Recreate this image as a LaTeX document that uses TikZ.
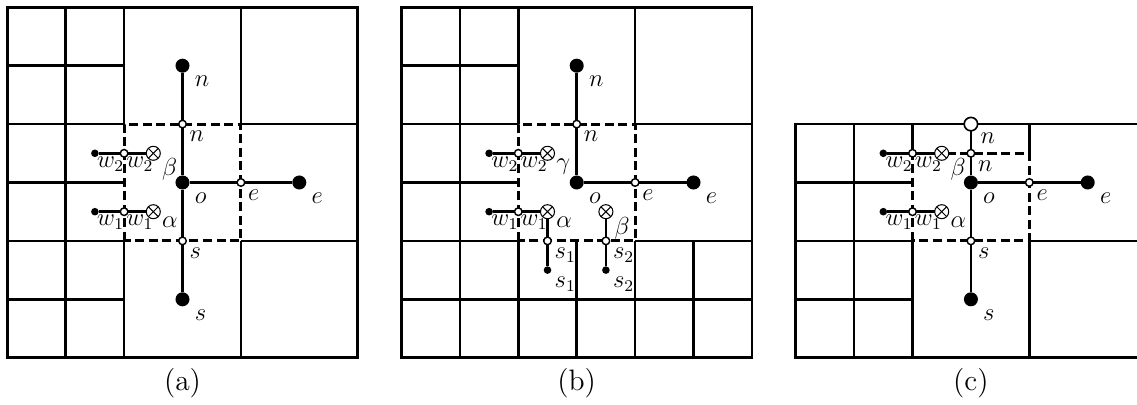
\documentclass[tikz,border=0pt]{standalone}
\tikzset{
  cell/.style={line width=1.2pt},
  bound/.style={line width=1.5pt, dash pattern=on 4.4pt off 2.2pt},
  link/.style={line width=1.2pt},
  bigdot/.style={circle, fill=black, inner sep=0pt, outer sep=0pt, minimum size=0.24cm},
  bigring/.style={circle, draw, fill=white, line width=0.8pt, inner sep=0pt, outer sep=0pt, minimum size=0.23cm},
  ring/.style={circle, draw, fill=white, line width=0.7pt, inner sep=0pt, outer sep=0pt, minimum size=0.13cm},
  dot/.style={circle, fill=black, inner sep=0pt, outer sep=0pt, minimum size=0.13cm},
  cross/.style={circle, draw, fill=white, line width=0.5pt, inner sep=0pt, outer sep=0pt, minimum size=0.24cm,
    path picture={\draw[line width=0.5pt] (path picture bounding box.north west) -- (path picture bounding box.south east)
      (path picture bounding box.north east) -- (path picture bounding box.south west);}},
  lb/.style={anchor=north west, inner sep=3pt},
  lr/.style={anchor=north west, inner sep=2pt},
  lw/.style={anchor=north west, inner sep=0pt},
  lx/.style={anchor=north west, inner sep=1pt},
  caption/.style={font=\Large},
}
\begin{document}
\begin{tikzpicture}[font=\large]
\clip (-0.125,-0.793) rectangle (19.344,6.125);

% ---------------- (a) ----------------
\begin{scope}
  \draw[cell] (0,0) rectangle (6,6);
  \draw[cell] (1,0) -- (1,6) (2,0) -- (2,2) (2,4) -- (2,6) (4,0) -- (4,2) (4,4) -- (4,6)
    (0,5) -- (2,5) (0,4) -- (2,4) (4,4) -- (6,4) (0,3) -- (2,3)
    (0,2) -- (2,2) (4,2) -- (6,2) (0,1) -- (2,1);
  \draw[bound] (2,2) rectangle (4,4);

  \node[bigdot, label={[lb]-35:$n$}] (aN) at (3,5) {};
  \node[ring, label={[lr]-45:$n$}] (an) at (3,4) {};
  \node[bigdot, label={[lb]-35:$o$}] (aO) at (3,3) {};
  \node[ring, label={[lr]-45:$e$}] (ae) at (4,3) {};
  \node[bigdot, label={[lb]-35:$e$}] (aE) at (5,3) {};
  \node[ring, label={[lr]-45:$s$}] (as) at (3,2) {};
  \node[bigdot, label={[lb]-35:$s$}] (aS) at (3,1) {};
  \node[dot, label={[lw]-60:$w_2$}] (aw2d) at (1.5,3.5) {};
  \node[ring, label={[lw]-60:$w_2$}] (aw2) at (2,3.5) {};
  \node[cross, label={[lx]-25:$\beta$}] (aB) at (2.5,3.5) {};
  \node[dot, label={[lw]-60:$w_1$}] (aw1d) at (1.5,2.5) {};
  \node[ring, label={[lw]-60:$w_1$}] (aw1) at (2,2.5) {};
  \node[cross, label={[lx]-25:$\alpha$}] (aA) at (2.5,2.5) {};

  \draw[link] (aN) -- (an) -- (aO) -- (as) -- (aS);
  \draw[link] (aO) -- (ae) -- (aE);
  \draw[link] (aw2d) -- (aw2) -- (aB);
  \draw[link] (aw1d) -- (aw1) -- (aA);

  \node[caption] (acap) at (3,-0.43) {(a)};
\end{scope}

% ---------------- (b) ----------------
\begin{scope}[xshift=6.75cm]
  \draw[cell] (0,0) rectangle (6,6);
  \draw[cell] (1,0) -- (1,6) (2,0) -- (2,2) (2,4) -- (2,6) (3,0) -- (3,2)
    (4,0) -- (4,2) (4,4) -- (4,6) (5,0) -- (5,2)
    (0,5) -- (2,5) (0,4) -- (2,4) (4,4) -- (6,4) (0,3) -- (2,3)
    (0,2) -- (2,2) (4,2) -- (6,2) (0,1) -- (6,1);
  \draw[bound] (2,2) rectangle (4,4);

  \node[bigdot, label={[lb]-35:$n$}] (bN) at (3,5) {};
  \node[ring, label={[lr]-45:$n$}] (bn) at (3,4) {};
  \node[bigdot, label={[lb]-35:$o$}] (bO) at (3,3) {};
  \node[ring, label={[lr]-45:$e$}] (be) at (4,3) {};
  \node[bigdot, label={[lb]-35:$e$}] (bE) at (5,3) {};
  \node[dot, label={[lw]-60:$w_2$}] (bw2d) at (1.5,3.5) {};
  \node[ring, label={[lw]-60:$w_2$}] (bw2) at (2,3.5) {};
  \node[cross, label={[lx]-25:$\gamma$}] (bG) at (2.5,3.5) {};
  \node[dot, label={[lw]-60:$w_1$}] (bw1d) at (1.5,2.5) {};
  \node[ring, label={[lw]-60:$w_1$}] (bw1) at (2,2.5) {};
  \node[cross, label={[lx]-25:$\alpha$}] (bA) at (2.5,2.5) {};
  \node[ring, label={[lr]-45:$s_1$}] (bs1) at (2.5,2) {};
  \node[dot, label={[lr]-45:$s_1$}] (bs1d) at (2.5,1.5) {};
  \node[cross, label={[lx]-25:$\beta$}] (bB) at (3.5,2.5) {};
  \node[ring, label={[lr]-45:$s_2$}] (bs2) at (3.5,2) {};
  \node[dot, label={[lr]-45:$s_2$}] (bs2d) at (3.5,1.5) {};

  \draw[link] (bN) -- (bn) -- (bO) -- (be) -- (bE);
  \draw[link] (bw2d) -- (bw2) -- (bG);
  \draw[link] (bw1d) -- (bw1) -- (bA);
  \draw[link] (bA) -- (bs1) -- (bs1d);
  \draw[link] (bB) -- (bs2) -- (bs2d);

  \node[caption] (bcap) at (3,-0.43) {(b)};
\end{scope}

% ---------------- (c) ----------------
\begin{scope}[xshift=13.5cm]
  \draw[cell] (6,4) -- (0,4) -- (0,0) -- (6,0) -- cycle;
  \draw[cell] (1,0) -- (1,4) (2,0) -- (2,2) (2,3.5) -- (2,4) (4,0) -- (4,2) (4,3.5) -- (4,4)
    (0,3) -- (2,3) (0,2) -- (2,2) (4,2) -- (6,2) (0,1) -- (2,1);
  \draw[bound] (2,2) rectangle (4,3.5);

  \node[bigring, label={[lr]-40:$n$}] (cN) at (3,4) {};
  \node[ring, label={[lr]-45:$n$}] (cn) at (3,3.5) {};
  \node[bigdot, label={[lb]-35:$o$}] (cO) at (3,3) {};
  \node[ring, label={[lr]-45:$e$}] (ce) at (4,3) {};
  \node[bigdot, label={[lb]-35:$e$}] (cE) at (5,3) {};
  \node[ring, label={[lr]-45:$s$}] (cs) at (3,2) {};
  \node[bigdot, label={[lb]-35:$s$}] (cS) at (3,1) {};
  \node[dot, label={[lw]-60:$w_2$}] (cw2d) at (1.5,3.5) {};
  \node[ring, label={[lw]-60:$w_2$}] (cw2) at (2,3.5) {};
  \node[cross, label={[lx]-25:$\beta$}] (cB) at (2.5,3.5) {};
  \node[dot, label={[lw]-60:$w_1$}] (cw1d) at (1.5,2.5) {};
  \node[ring, label={[lw]-60:$w_1$}] (cw1) at (2,2.5) {};
  \node[cross, label={[lx]-25:$\alpha$}] (cA) at (2.5,2.5) {};

  \draw[link] (cN) -- (cn) -- (cO) -- (cs) -- (cS);
  \draw[link] (cO) -- (ce) -- (cE);
  \draw[link] (cw2d) -- (cw2) -- (cB);
  \draw[link] (cw1d) -- (cw1) -- (cA);

  \node[caption] (ccap) at (3,-0.43) {(c)};
\end{scope}
\end{tikzpicture}
\end{document}
